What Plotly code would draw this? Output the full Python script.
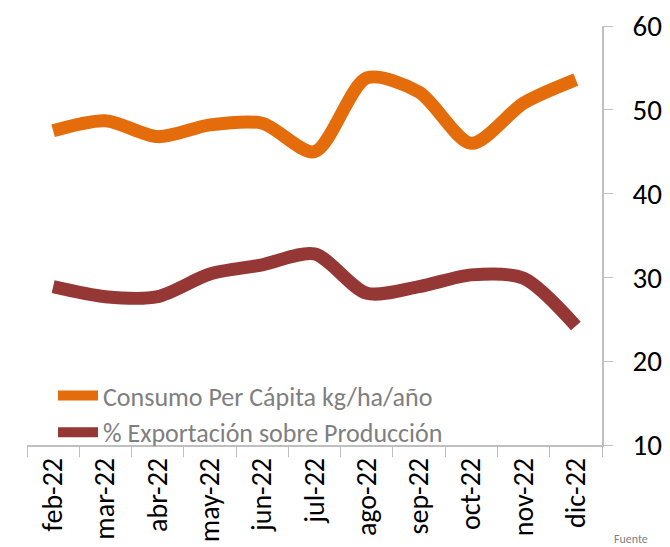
import plotly.graph_objects as go

months = ["feb-22", "mar-22", "abr-22", "may-22", "jun-22", "jul-22",
          "ago-22", "sep-22", "oct-22", "nov-22", "dic-22"]
consumo = [47.5, 48.7, 46.8, 48.2, 48.4, 45.0, 53.8, 52.1, 46.0, 50.8, 53.6]
exportacion = [28.9, 27.7, 27.7, 30.4, 31.5, 32.8, 28.1, 28.9, 30.3, 29.9, 24.2]
y_ticks = [10, 20, 30, 40, 50, 60]

FONT = "Carlito, Liberation Sans, Arial, sans-serif"

W, H = 670, 547
L, T = 27, 26
PW, PH = 575, 419
R, B = W - L - PW, H - T - PH
BOTTOM = T + PH  # pixel y of x axis

fig = go.Figure()
fig.add_trace(go.Scatter(
    x=months, y=consumo, mode="lines", name="Consumo Per Cápita kg/ha/año",
    line=dict(color="#E46C0A", width=13, shape="spline", smoothing=0.8),
))
fig.add_trace(go.Scatter(
    x=months, y=exportacion, mode="lines", name="% Exportación sobre Producción",
    line=dict(color="#953735", width=13, shape="spline", smoothing=0.8),
))

fig.update_layout(
    width=W, height=H,
    margin=dict(l=L, r=R, t=T, b=B, autoexpand=False),
    paper_bgcolor="white", plot_bgcolor="white",
    font=dict(family=FONT, color="black"),
    legend=dict(
        x=(53 - L) / PW, y=(BOTTOM - 372) / PH, xanchor="left", yanchor="top",
        font=dict(size=26, color="#7F7F7F", family=FONT),
        bgcolor="rgba(0,0,0,0)", tracegroupgap=0, itemwidth=40,
    ),
    xaxis=dict(
        type="category", range=[-0.5, 10.5], automargin=False,
        showline=True, linecolor="#BFBFBF", linewidth=1.5,
        ticks="outside", tickson="boundaries", ticklen=10, tickcolor="#BFBFBF",
        tickangle=-90, tickfont=dict(size=28, color="black"),
        showgrid=False, zeroline=False,
    ),
    yaxis=dict(
        side="right", range=[10, 60], tickvals=y_ticks, automargin=False,
        showline=True, linecolor="#BFBFBF", linewidth=1.5,
        ticks="outside", ticklen=9, tickcolor="#BFBFBF",
        tickfont=dict(size=29, color="black"), ticklabelstandoff=14,
        showgrid=False, zeroline=False,
    ),
    annotations=[dict(
        text="Fuente", x=(612 - L) / PW, y=-(539 - BOTTOM) / PH,
        xref="paper", yref="paper",
        showarrow=False, font=dict(size=12, color="#7F7F7F", family=FONT),
        xanchor="left", yanchor="middle",
    )],
)

fig.write_html(
    "out.html",
    config={"displayModeBar": False},
    post_script="document.body.style.margin='0px';document.body.style.overflow='hidden';",
)
